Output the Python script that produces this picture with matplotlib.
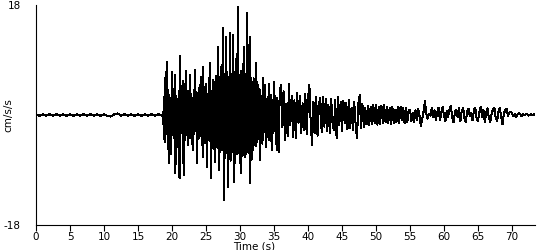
import numpy as np
import matplotlib
matplotlib.use('Agg')
import matplotlib.pyplot as plt

# Acceleration record (cm/s/s)
# quiet part before the arrival, one value every 0.5 s from t = 0
accel_pre = [0.12, -0.12, 0.12, -0.12, 0.12, -0.12, 0.12, -0.12, 0.12, -0.12,
             0.12, -0.12, 0.12, -0.12, 0.12, -0.12, 0.12, -0.12, 0.12, -0.12,
             0.12, -0.12, -0.25, 0.12, 0.25, -0.12, 0.12, -0.12, 0.12, -0.12,
             0.12, -0.12, 0.12, -0.12, 0.12, -0.12, 0.12, -0.12]

# strong motion, one value every 0.1 s from t = 18.6
accel_strong = [
    0.0, -1.5, 3.0, -4.5,
    6.0, -3.2, 8.7, -2.5, 4.1, -7.9, 3.3, -4.0, 2.8, -6.4,
    7.1, -2.9, 4.2, -3.7, 6.6, -9.5, 3.1, -4.4, 2.6, -5.2,
    3.9, -10.4, 9.6, -3.0, 4.8, -2.7, 5.5, -9.8, 3.6, -4.1,
    7.2, -3.3, 2.9, -5.0, 4.0, -2.4, 6.5, -3.8, 3.4, -4.7,
    2.8, -5.8, 4.1, -3.1, 7.3, -2.6, 3.7, -7.9, 2.9, -3.9,
    4.4, -2.8, 6.2, -3.5, 3.0, -6.9, 7.9, -3.3, 2.7, -4.6,
    5.1, -8.5, 3.4, -2.9, 6.0, -4.2, 8.5, -10.4, 3.9, -3.1,
    5.8, -5.6, 4.9, -7.7, 6.4, -5.2, 6.1, -5.4, 11.1, -9.0,
    6.2, -6.0, 7.9, -5.8, 6.6, 14.3, -13.9, 6.7, -7.1, 12.8,
    -6.3, 7.1, -11.8, 6.2, -5.9, 13.4, -7.5, 6.8, -6.1, 7.6,
    13.1, -10.9, 7.0, -7.8, 9.2, -6.4, 7.0, 17.7, -6.3, 6.5,
    -7.8, 7.2, -9.5, 6.3, -6.6, 8.0, 11.2, -6.9, 6.8, -6.4,
    16.7, -6.0, 7.4, -6.2, 12.8, -11.2, 6.1, -7.3, 5.4, -5.8,
    6.0, -4.9, 5.5, -5.1, 8.5, -4.4, 4.9, -4.0, 4.2, -7.4,
    4.1, -3.5, 2.9, -4.7, 6.0, -2.8, 3.6, 4.9, -5.2, 2.7,
    -3.6, 2.9, -4.1, 5.1, -2.6, 3.3, -3.9, -5.7, 2.5, -2.9,
    5.4, -2.6, 3.1, -3.5, -5.7, 2.8, -2.4, -6.0, 2.3, 4.1,
]

# coda and tail, one value every 0.2 s from t = 36.0
accel_coda = [
    4.9, -2.0, 3.9, -4.1, 1.8,
    -3.5, 5.1, -1.6, 3.2, -3.6,
    2.4, -3.8, 3.6, -1.3, 3.1,
    -3.0, 1.9, -2.4, 3.4, -3.1,
    2.7, 4.9, -1.5, -4.9, 2.2,
    -2.9, 3.0, -3.4, 1.6, 2.8,
    -2.8, 2.9, -1.9, 2.6, -2.7,
    1.7, -2.9, 2.7, -1.3, -2.5,
    2.4, -3.8, 3.0, -1.6, 2.2,
    -2.6, 2.3, -1.4, 2.0, -2.3,
    2.5, -2.2, 1.2, -2.5, 2.1,
    -1.6, -3.8, 1.9, 3.3, -2.2,
    1.8, -1.9, 1.2, -1.5, 1.5,
    -1.7, 1.3, -1.5, 1.7, -1.4,
    1.6, -1.6, 1.4, -1.5, 1.5,
    -1.3, 1.6, -1.2, 1.3, -1.4,
    1.2, -1.5, 1.4, -1.3, 0.9,
    -1.2, 1.4, -1.3, 1.3, -0.9,
    1.2, -1.4, 1.1, -1.2, 0.8,
    0.9, -1.0, 0.4, -1.2, 0.8,
    -0.9, 1.0, -0.2, -1.8, -0.6,
    0.6, 2.3, 0.1, -0.6, 0.2,
    -0.1, 1.1, -0.4, 0.8, -0.9,
    0.5, 1.2, -0.9, 0.4, 1.3,
    -0.2, -1.0, 0.7, -0.3, 0.9,
    1.5, -0.4, -1.2, 0.5, 0.9,
    -0.3, 1.1, -1.0, 0.6, 1.2,
    -0.5, -1.1, 0.6, 1.0, -0.2,
    0.4, -0.9, 0.8, 1.2, -0.6,
    -1.0, 0.5, 1.3, -0.3, 0.8,
    -1.2, 0.3, 1.1, -0.5, -1.1,
    0.2, 0.9, 1.2, -0.5, -1.0,
    0.5, 1.1, -0.3, -1.5, 0.2,
    0.8, 1.0, -0.2, 0.4, 0.5,
    0.3, -0.2, 0.2, -0.3, 0.1,
    0.3, 0.1, -0.2, 0.2, 0.0,
    0.1, 0.2, -0.1, 0.0, 0.1,
    0.0, 0.1, 0.0,
]

x_ticks = list(range(0, 71, 5))
y_ticks = [-18, 18]

t_pre = np.arange(len(accel_pre)) * 0.5
t_strong = 18.6 + np.arange(len(accel_strong)) * 0.1
t_coda = 36.0 + np.arange(len(accel_coda)) * 0.2
t = np.concatenate([t_pre, t_strong, t_coda])
a = np.concatenate([accel_pre, accel_strong, accel_coda])

plt.rcParams['font.family'] = ['DejaVu Sans']
plt.rcParams['axes.unicode_minus'] = False
fig = plt.figure(figsize=(5.5, 2.5), dpi=100)
ax = fig.add_axes([0.0655, 0.10, 0.9075, 0.88])

ax.plot(t, a, color='black', linewidth=0.72, antialiased=False)

ax.set_xlim(0, 73.4)
ax.set_ylim(-18, 18)
ax.set_xticks(x_ticks)
ax.set_yticks(y_ticks)
ax.tick_params(axis='x', length=4, width=0.8, labelsize=7.5, pad=1)
ax.tick_params(axis='y', length=0, labelsize=7.5, pad=11)

for side in ['top', 'right']:
    ax.spines[side].set_visible(False)
for side in ['left', 'bottom']:
    ax.spines[side].set_linewidth(0.8)

ax.set_xlabel('Time (s)', fontsize=7.5, labelpad=0)
ax.xaxis.set_label_coords(0.437, -0.075)
ax.set_ylabel('cm/s/s', fontsize=7.5)
ax.yaxis.set_label_coords(-0.045, 0.5)

fig.savefig('out.png', dpi=100)
